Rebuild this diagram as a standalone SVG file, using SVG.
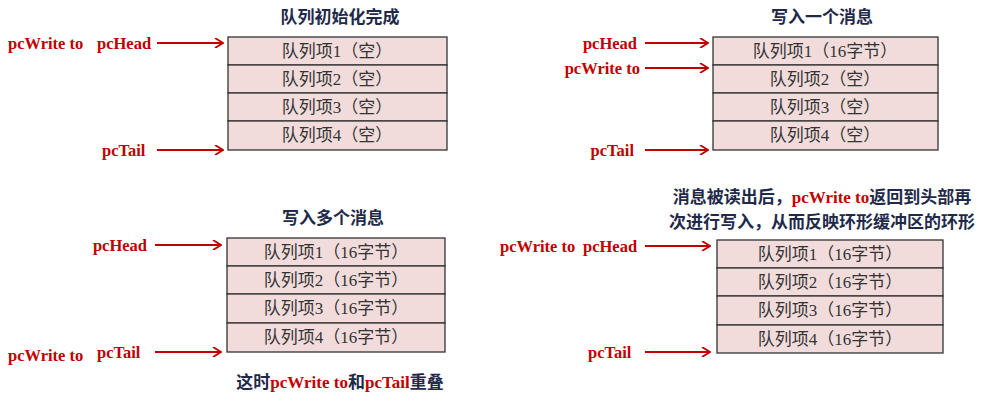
<svg xmlns="http://www.w3.org/2000/svg" width="982" height="403" viewBox="0 0 982 403">
<defs>
<marker id="ah" viewBox="0 0 10 10" refX="9" refY="5" markerWidth="10" markerHeight="10" markerUnits="userSpaceOnUse" orient="auto"><path d="M1,0 L9,5 L1,10" fill="none" stroke="#c00000" stroke-width="1.8"/></marker>
<style>
.row{fill:#f2dcdb;stroke:#333;stroke-width:1.3}
.rt{font-family:"Liberation Serif","Noto Sans CJK SC",serif;font-size:17px;fill:#333;text-anchor:middle}
.lb{font-family:"Liberation Serif",serif;font-weight:bold;font-size:16.5px;fill:#c00000}
.tt{font-family:"Liberation Serif","Noto Sans CJK SC",sans-serif;font-weight:bold;font-size:17px;fill:#1f2a4a;text-anchor:middle}
.ar{stroke:#c00000;stroke-width:2;fill:none;marker-end:url(#ah)}
</style>
</defs>
<rect width="982" height="403" fill="#fff"/>
<g id="q1">
<text class="tt" x="340" y="23">队列初始化完成</text>
<rect class="row" x="228" y="37" width="219" height="28"/><rect class="row" x="228" y="65" width="219" height="28"/><rect class="row" x="228" y="93" width="219" height="28"/><rect class="row" x="228" y="121" width="219" height="29"/>
<text class="rt" x="337" y="57">队列项1（空）</text><text class="rt" x="337" y="85">队列项2（空）</text><text class="rt" x="337" y="113">队列项3（空）</text><text class="rt" x="337" y="141">队列项4（空）</text>
<text class="lb" x="8" y="49">pcWrite to</text><text class="lb" x="97" y="49">pcHead</text><text class="lb" x="102" y="156">pcTail</text>
</g>
<g id="q2">
<text class="tt" x="822" y="23">写入一个消息</text>
<rect class="row" x="713" y="37" width="225" height="28"/><rect class="row" x="713" y="65" width="225" height="28"/><rect class="row" x="713" y="93" width="225" height="28"/><rect class="row" x="713" y="121" width="225" height="29"/>
<text class="rt" x="825" y="57">队列项1（16字节）</text><text class="rt" x="825" y="85">队列项2（空）</text><text class="rt" x="825" y="113">队列项3（空）</text><text class="rt" x="825" y="141">队列项4（空）</text>
<text class="lb" x="637" y="49" text-anchor="end">pcHead</text><text class="lb" x="640" y="74" text-anchor="end">pcWrite to</text><text class="lb" x="634" y="156" text-anchor="end">pcTail</text>
</g>
<g id="q3">
<text class="tt" x="333" y="224">写入多个消息</text>
<rect class="row" x="227" y="238" width="218" height="28"/><rect class="row" x="227" y="266" width="218" height="28"/><rect class="row" x="227" y="294" width="218" height="29"/><rect class="row" x="227" y="323" width="218" height="29"/>
<text class="rt" x="336" y="258">队列项1（16字节）</text><text class="rt" x="336" y="286">队列项2（16字节）</text><text class="rt" x="336" y="314">队列项3（16字节）</text><text class="rt" x="336" y="343">队列项4（16字节）</text>
<text class="lb" x="147" y="251" text-anchor="end">pcHead</text><text class="lb" x="8" y="361">pcWrite to</text><text class="lb" x="97" y="358">pcTail</text>
<text class="tt" x="340" y="388">这时<tspan fill="#c00000">pcWrite to</tspan>和<tspan fill="#c00000">pcTail</tspan>重叠</text>
</g>
<g id="q4">
<text class="tt" x="822" y="203">消息被读出后，<tspan fill="#c00000">pcWrite to</tspan>返回到头部再</text>
<text class="tt" x="822" y="228">次进行写入，从而反映环形缓冲区的环形</text>
<rect class="row" x="717" y="240" width="226" height="28"/><rect class="row" x="717" y="268" width="226" height="28"/><rect class="row" x="717" y="296" width="226" height="29"/><rect class="row" x="717" y="325" width="226" height="28"/>
<text class="rt" x="830" y="260">队列项1（16字节）</text><text class="rt" x="830" y="288">队列项2（16字节）</text><text class="rt" x="830" y="316">队列项3（16字节）</text><text class="rt" x="830" y="345">队列项4（16字节）</text>
<text class="lb" x="500" y="252">pcWrite to</text><text class="lb" x="583" y="252">pcHead</text><text class="lb" x="588" y="358">pcTail</text>
</g>
<g id="connectors">
<line class="ar" x1="157" y1="43" x2="223" y2="43"/><line class="ar" x1="157" y1="150" x2="223" y2="150"/>
<line class="ar" x1="645" y1="43" x2="708" y2="43"/><line class="ar" x1="645" y1="68" x2="708" y2="68"/><line class="ar" x1="645" y1="150" x2="708" y2="150"/>
<line class="ar" x1="155" y1="245" x2="221" y2="245"/><line class="ar" x1="155" y1="352" x2="221" y2="352"/>
<line class="ar" x1="645" y1="246" x2="710" y2="246"/><line class="ar" x1="645" y1="352" x2="710" y2="352"/>
</g>
</svg>
